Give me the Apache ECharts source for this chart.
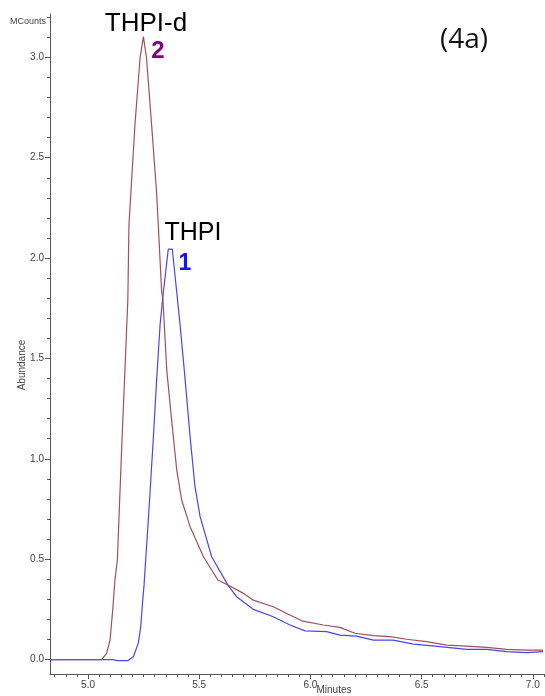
<!DOCTYPE html>
<html>
<head>
<meta charset="utf-8">
<script src="https://cdn.jsdelivr.net/npm/echarts@6/dist/echarts.min.js"></script>
<style>html,body{margin:0;padding:0;background:#fff}#c{width:545px;height:696px}</style>
</head>
<body>
<div id="c"></div>
<script>
// THPI-d (trace 2) retention time (min) and abundance (MCounts)
const redT = [4.829, 5.062, 5.084, 5.099, 5.111, 5.121, 5.132, 5.151, 5.179, 5.184, 5.193, 5.211, 5.234, 5.249, 5.263, 5.286, 5.308, 5.316, 5.331, 5.337, 5.354, 5.376, 5.399, 5.421, 5.459, 5.519, 5.584, 5.629, 5.697, 5.743, 5.833, 5.908, 5.961, 6.058, 6.133, 6.200, 6.283, 6.358, 6.433, 6.523, 6.613, 6.703, 6.793, 6.883, 6.973, 7.046];
const redV = [0, 0, 0.032, 0.097, 0.247, 0.396, 0.496, 1.044, 1.791, 2.165, 2.331, 2.663, 2.997, 3.103, 2.997, 2.663, 2.331, 2.165, 1.833, 1.791, 1.442, 1.193, 0.944, 0.795, 0.662, 0.512, 0.396, 0.371, 0.331, 0.296, 0.263, 0.222, 0.193, 0.172, 0.160, 0.131, 0.119, 0.114, 0.101, 0.089, 0.072, 0.067, 0.061, 0.051, 0.047, 0.047];
// THPI (trace 1)
const blueT = [4.829, 5.112, 5.130, 5.180, 5.204, 5.226, 5.237, 5.246, 5.252, 5.276, 5.294, 5.309, 5.324, 5.339, 5.361, 5.379, 5.391, 5.414, 5.436, 5.459, 5.481, 5.504, 5.556, 5.629, 5.668, 5.728, 5.743, 5.833, 5.908, 5.976, 6.073, 6.133, 6.208, 6.283, 6.373, 6.463, 6.583, 6.703, 6.793, 6.883, 6.973, 7.046];
const blueV = [0, 0, -0.005, -0.005, 0.014, 0.082, 0.163, 0.296, 0.372, 0.780, 1.110, 1.403, 1.667, 1.833, 2.045, 2.045, 1.916, 1.667, 1.403, 1.110, 0.861, 0.712, 0.512, 0.371, 0.313, 0.263, 0.250, 0.213, 0.172, 0.143, 0.139, 0.122, 0.117, 0.097, 0.097, 0.077, 0.064, 0.051, 0.051, 0.039, 0.034, 0.039];
// tick labels
const xMajor = [5.0, 5.5, 6.0, 6.5, 7.0];
const yMajor = [0.0, 0.5, 1.0, 1.5, 2.0, 2.5, 3.0];
const xMinorStep = 0.05, yMinorStep = 0.1;

const X_MIN = 4.829, X_MAX = 7.055, Y_MIN = -0.072, Y_MAX = 3.216;
const xMinor = [], yMinor = [];
for (let i = Math.ceil(X_MIN / xMinorStep); i * xMinorStep <= X_MAX + 1e-9; i++) xMinor.push(+(i * xMinorStep).toFixed(2));
for (let i = Math.ceil(Y_MIN / yMinorStep); i * yMinorStep <= Y_MAX + 1e-9; i++) yMinor.push(+(i * yMinorStep).toFixed(1));

const zip = (a, b) => a.map((t, i) => [t, b[i]]);
const axisCol = '#555';
const font = 'Liberation Sans, Arial, sans-serif';

const chart = echarts.init(document.getElementById('c'), null, {renderer: 'canvas'});
chart.setOption({
  animation: false,
  backgroundColor: '#fff',
  grid: {left: 50, right: 0, top: 14, bottom: 22, containLabel: false},
  xAxis: [
    {type: 'value', min: X_MIN, max: X_MAX, position: 'bottom',
     axisLine: {show: true, onZero: false, lineStyle: {color: axisCol, width: 1}},
     axisTick: {show: true, length: 5, customValues: xMajor, lineStyle: {color: axisCol}},
     axisLabel: {show: true, customValues: xMajor, margin: 6, color: '#444', fontSize: 10, fontFamily: font,
       formatter: v => v.toFixed(1)},
     splitLine: {show: false}},
    {type: 'value', min: X_MIN, max: X_MAX, position: 'bottom',
     axisLine: {show: false, onZero: false},
     axisTick: {show: true, length: 3, customValues: xMinor, lineStyle: {color: axisCol}},
     axisLabel: {show: false}, splitLine: {show: false}}
  ],
  yAxis: [
    {type: 'value', min: Y_MIN, max: Y_MAX, position: 'left',
     axisLine: {show: true, onZero: false, lineStyle: {color: axisCol, width: 1}},
     axisTick: {show: true, length: 5, customValues: yMajor, lineStyle: {color: axisCol}},
     axisLabel: {show: true, customValues: yMajor, margin: 6, color: '#444', fontSize: 10, fontFamily: font,
       formatter: v => v.toFixed(1)},
     splitLine: {show: false}},
    {type: 'value', min: Y_MIN, max: Y_MAX, position: 'left',
     axisLine: {show: false, onZero: false},
     axisTick: {show: true, length: 3, customValues: yMinor, lineStyle: {color: axisCol}},
     axisLabel: {show: false}, splitLine: {show: false}}
  ],
  series: [
    {name: 'THPI', type: 'line', data: zip(blueT, blueV), showSymbol: false, smooth: false,
     lineStyle: {color: '#4646ee', width: 1.2}, z: 2},
    {name: 'THPI-d', type: 'line', data: zip(redT, redV), showSymbol: false, smooth: false,
     lineStyle: {color: '#a24e5e', width: 1.2}, z: 3}
  ],
  graphic: [
    {type: 'text', left: 10, top: 17, style: {text: 'MCounts', font: '9px ' + font, fill: '#444'}},
    {type: 'text', x: 22, y: 365, rotation: Math.PI / 2,
     style: {text: 'Abundance', font: '10px ' + font, fill: '#444', align: 'center', verticalAlign: 'middle'}},
    {type: 'text', x: 334, y: 690, style: {text: 'Minutes', font: '10px ' + font, fill: '#444', align: 'center', verticalAlign: 'middle'}},
    {type: 'text', x: 146, y: 24, style: {text: 'THPI-d', font: '26px ' + font, fill: '#000', align: 'center', verticalAlign: 'middle'}},
    {type: 'text', x: 158, y: 51, style: {text: '2', font: 'bold 24px ' + font, fill: '#800080', align: 'center', verticalAlign: 'middle'}},
    {type: 'text', x: 193, y: 233, style: {text: 'THPI', font: '25px ' + font, fill: '#000', align: 'center', verticalAlign: 'middle'}},
    {type: 'text', x: 185, y: 264, style: {text: '1', font: 'bold 23px ' + font, fill: '#1414ee', align: 'center', verticalAlign: 'middle'}},
    {type: 'text', x: 464, y: 40, style: {text: '(4a)', font: '28px Open Sans, sans-serif', fill: '#111', align: 'center', verticalAlign: 'middle'}}
  ]
});
</script>
</body>
</html>
